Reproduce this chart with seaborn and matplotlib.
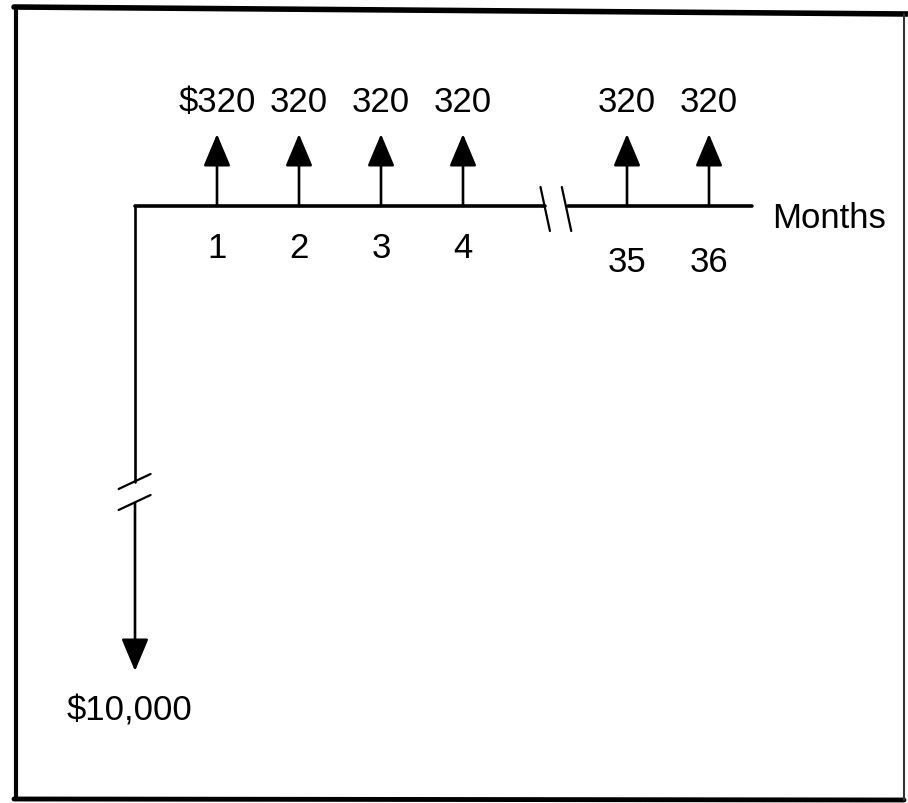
import matplotlib
matplotlib.use("Agg")
import matplotlib.pyplot as plt
import seaborn as sns
import pandas as pd

# ---- data ----
months = ["1", "2", "3", "4", "35", "36"]
receipts = [320, 320, 320, 320, 320, 320]
receipt_labels = ["$320", "320", "320", "320", "320", "320"]
loan_amount = 10000
loan_label = "$10,000"
axis_label = "Months"

# slot positions on the broken time line (gap between month 4 and 35)
slots = [1, 2, 3, 4, 6, 7]

sns.set_theme(style="white")
plt.rcParams["font.family"] = ["Liberation Sans", "DejaVu Sans"]
fsize = 25

W, H = 908, 804
fig = plt.figure(figsize=(W / 100, H / 100), dpi=100)
ax = fig.add_axes([0, 0, 1, 1])
# x: slot units (82 px per slot, origin at px 135); y: px units up from the time line
x0, sx = 135, 82
y0 = 207
ax.set_xlim(-x0 / sx, (W - x0) / sx)
ax.set_ylim(y0 - H, y0)
ax.axis("off")

up_len = 72        # schematic arrow lengths (diagram not to scale)
down_len = 465
lw_axis = 2.6
lw_shaft = 1.9

df = pd.DataFrame({"month": months, "slot": slots, "amount": receipts, "label": receipt_labels})

# time line with a break between month 4 and 35
brk_a, brk_b = 5.0, 5.28
line_end = 7.52
sns.lineplot(x=[0, brk_a], y=[0, 0], ax=ax, color="black", lw=lw_axis, legend=False)
sns.lineplot(x=[brk_b, line_end], y=[0, 0], ax=ax, color="black", lw=lw_axis, legend=False)
for bx in (brk_a, brk_b - 0.02):
    ax.plot([bx - 0.055, bx + 0.06], [19, -25], color="black", lw=1.6)

# vertical loan line with break
vb_top, vb_bot = -276, -297
ax.plot([0, 0], [0, vb_top], color="black", lw=lw_shaft)
for by in (vb_top, vb_bot):
    ax.plot([-0.2, 0.19], [by - 7, by + 8], color="black", lw=1.6)

ax.annotate("", xy=(0, -down_len), xytext=(0, vb_bot),
            arrowprops=dict(arrowstyle="-|>,head_length=1.0,head_width=0.42",
                            mutation_scale=20, lw=lw_shaft, color="black",
                            shrinkA=0, shrinkB=0))
ax.text(-0.07, -down_len - 39, loan_label, ha="center", va="center", fontsize=fsize, color="black")

# receipt arrows
for _, r in df.iterrows():
    ax.annotate("", xy=(r.slot, up_len), xytext=(r.slot, 0),
                arrowprops=dict(arrowstyle="-|>,head_length=1.0,head_width=0.42",
                                mutation_scale=20, lw=lw_shaft, color="black",
                                shrinkA=0, shrinkB=0))
    ax.text(r.slot, up_len + 32, r.label, ha="center", va="center", fontsize=fsize, color="black")
    dy = -41 if int(r.month) < 10 else -55
    ax.text(r.slot, dy, r.month, ha="center", va="center", fontsize=fsize, color="black")

ax.text(line_end + 0.25, -12, axis_label, ha="left", va="center", fontsize=fsize, color="black")

# frame around the figure (pixel coords)
def px(xp, yp):
    return xp / W, 1 - yp / H
for (a, b, lw, c) in [((16, 8), (16, 800), 3.0, "black"),
                      ((14, 8), (908, 15), 4.0, "black"),
                      ((14, 800), (904, 801), 3.5, "black"),
                      ((904, 15), (904, 801), 1.5, "#333333")]:
    (xa, ya), (xb, yb) = px(*a), px(*b)
    fig.add_artist(plt.Line2D([xa, xb], [ya, yb], transform=fig.transFigure, color=c, lw=lw))

fig.savefig("out.png", dpi=100, facecolor="white")
